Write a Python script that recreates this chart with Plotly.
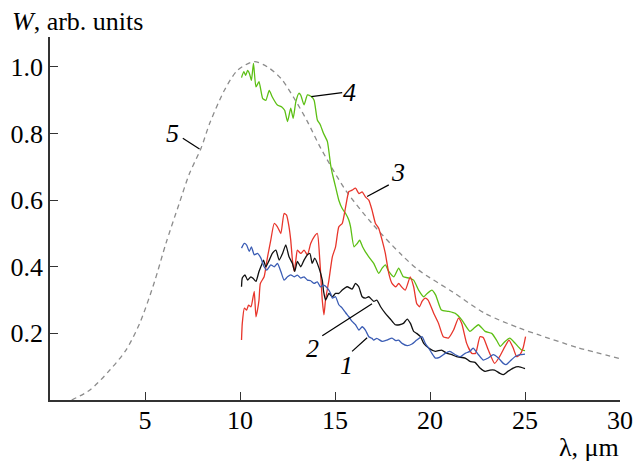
import plotly.graph_objects as go

# ---- data ----
x1 = [10.08,10.23,10.35,10.49,10.6,10.75,10.92,11.1,11.27,11.41,11.62,11.8,11.97,12.15,12.32,12.5,12.67,12.85,13.02,13.2,13.37,13.55,13.72,13.9,14.07,14.23,14.4,14.6,14.77,14.86,15.03,15.2,15.38,15.56,15.73,15.9,16.08,16.26,16.43,16.6,16.78,16.95,17.04,17.2,17.48,17.74,18.0,18.2,18.35,18.53,18.8,19.05,19.3,19.58,19.75,19.93,20.1,20.28,20.5,20.8,21.04,21.33,21.6,21.85,22.1,22.27,22.55,22.8,23.07,23.33,23.6,23.86,24.0,24.2,24.47,24.73,25.0]
y1 = [0.456,0.47,0.465,0.446,0.46,0.436,0.44,0.426,0.40,0.39,0.406,0.40,0.41,0.386,0.36,0.37,0.376,0.37,0.375,0.366,0.37,0.36,0.358,0.35,0.355,0.34,0.345,0.336,0.32,0.306,0.31,0.286,0.276,0.262,0.25,0.236,0.226,0.21,0.22,0.21,0.19,0.185,0.18,0.185,0.176,0.18,0.186,0.178,0.18,0.17,0.163,0.168,0.18,0.19,0.17,0.156,0.14,0.126,0.128,0.14,0.146,0.136,0.13,0.14,0.146,0.156,0.136,0.12,0.126,0.136,0.126,0.11,0.106,0.116,0.13,0.136,0.138]

x2 = [10.08,10.12,10.26,10.4,10.57,10.7,10.84,11.0,11.14,11.24,11.36,11.54,11.7,11.89,12.06,12.24,12.41,12.58,12.76,12.88,13.02,13.2,13.37,13.55,13.68,13.8,13.93,14.16,14.33,14.4,14.5,14.56,14.68,14.86,15.03,15.2,15.38,15.64,15.9,16.08,16.25,16.43,16.6,16.78,17.04,17.2,17.4,17.65,17.9,18.17,18.4,18.6,18.8,18.97,19.14,19.3,19.5,19.67,19.93,20.28,20.6,20.9,21.15,21.4,21.85,22.1,22.37,22.63,22.9,23.15,23.4,23.68,23.86,24.1,24.38,24.65,25.0]
y2 = [0.34,0.366,0.376,0.36,0.37,0.365,0.356,0.386,0.406,0.42,0.40,0.42,0.44,0.45,0.42,0.44,0.466,0.43,0.41,0.386,0.416,0.40,0.42,0.436,0.44,0.41,0.426,0.396,0.36,0.326,0.30,0.306,0.32,0.31,0.32,0.32,0.33,0.34,0.333,0.35,0.34,0.31,0.306,0.31,0.296,0.30,0.28,0.26,0.244,0.226,0.226,0.23,0.243,0.23,0.206,0.20,0.19,0.17,0.156,0.146,0.15,0.14,0.136,0.13,0.126,0.116,0.113,0.096,0.086,0.09,0.09,0.08,0.076,0.086,0.096,0.10,0.094]

x3 = [10.08,10.12,10.23,10.35,10.45,10.58,10.66,10.75,10.84,10.92,11.0,11.07,11.27,11.45,11.62,11.8,11.97,12.15,12.32,12.45,12.58,12.67,12.76,12.85,12.94,13.02,13.2,13.37,13.55,13.72,13.9,14.07,14.2,14.33,14.42,14.5,14.68,14.86,15.03,15.2,15.38,15.56,15.73,15.9,16.08,16.26,16.43,16.6,16.78,16.95,17.13,17.3,17.48,17.65,17.83,18.0,18.2,18.35,18.5,18.7,18.96,19.14,19.3,19.45,19.58,19.75,19.9,20.2,20.45,20.7,20.97,21.24,21.5,21.67,21.93,22.2,22.4,22.63,22.8,23.07,23.4,23.66,23.95,24.16,24.38,24.56,24.73,24.9,25.03]
y3 = [0.18,0.23,0.276,0.27,0.285,0.28,0.30,0.326,0.25,0.27,0.30,0.35,0.37,0.43,0.48,0.53,0.52,0.50,0.56,0.555,0.52,0.48,0.42,0.386,0.42,0.45,0.44,0.45,0.436,0.47,0.49,0.50,0.42,0.30,0.256,0.30,0.36,0.43,0.46,0.52,0.53,0.58,0.626,0.63,0.636,0.62,0.625,0.61,0.60,0.57,0.53,0.516,0.48,0.44,0.38,0.35,0.34,0.35,0.34,0.33,0.37,0.34,0.29,0.28,0.296,0.306,0.30,0.26,0.23,0.19,0.186,0.21,0.246,0.23,0.17,0.14,0.14,0.19,0.188,0.15,0.11,0.13,0.161,0.18,0.156,0.13,0.136,0.156,0.19]

x4 = [10.08,10.2,10.3,10.4,10.5,10.6,10.71,10.84,11.0,11.19,11.36,11.54,11.7,11.97,12.2,12.35,12.5,12.67,12.8,12.94,13.1,13.2,13.37,13.55,13.75,13.9,14.07,14.23,14.4,14.6,14.77,14.86,15.03,15.2,15.38,15.56,15.73,15.82,16.0,16.17,16.3,16.45,16.6,16.78,17.04,17.3,17.48,17.65,17.83,18.1,18.35,18.6,18.9,19.14,19.4,19.67,19.85,20.1,20.3,20.6,20.97,21.33,21.68,22.1,22.3,22.55,22.9,23.25,23.5,23.7,23.95,24.2,24.47,24.8,25.0]
y4 = [0.968,0.986,0.975,0.99,0.98,0.96,1.011,0.94,0.956,0.906,0.90,0.93,0.91,0.886,0.88,0.87,0.836,0.876,0.846,0.896,0.921,0.915,0.886,0.916,0.911,0.90,0.841,0.826,0.80,0.776,0.706,0.68,0.64,0.60,0.575,0.56,0.54,0.52,0.46,0.47,0.48,0.46,0.445,0.43,0.41,0.38,0.396,0.406,0.386,0.37,0.396,0.37,0.366,0.36,0.33,0.31,0.32,0.33,0.315,0.27,0.266,0.26,0.24,0.206,0.215,0.226,0.206,0.20,0.18,0.161,0.176,0.186,0.171,0.151,0.148]

x5 = [1.14,2.1,3.15,4.0,4.72,5.5,6.1,6.8,7.34,7.95,8.4,9.18,9.87,10.75,11.45,12.15,12.85,13.55,14.25,15.56,16.95,18.5,19.4,21.15,22.9,24.65,25.7,27.8,29.94]
y5 = [0.0,0.03,0.09,0.15,0.23,0.355,0.47,0.59,0.68,0.756,0.83,0.93,0.99,1.016,1.0,0.966,0.906,0.836,0.756,0.63,0.53,0.436,0.39,0.326,0.26,0.217,0.196,0.157,0.125]

x_ticks = [5, 10, 15, 20, 25, 30]
y_ticks = [0.2, 0.4, 0.6, 0.8, 1.0]
y_tick_text = ["0.2", "0.4", "0.6", "0.8", "1.0"]

# curve labels: text, label position, leader line start (on curve), leader line end
labels = [
    ("1", (15.6, 0.105), (15.9, 0.146), (16.69, 0.187)),
    ("2", (13.8, 0.155), (14.33, 0.193), (16.95, 0.289)),
    ("3", (18.3, 0.682), (16.69, 0.611), (17.83, 0.646)),
    ("4", (15.75, 0.922), (13.75, 0.911), (15.38, 0.923)),
    ("5", (6.45, 0.80), (7.87, 0.754), (6.99, 0.786)),
]

FONT = "Liberation Serif"
FS = 26
fig = go.Figure()
fig.add_trace(go.Scatter(x=x5, y=y5, mode="lines", line=dict(color="#8c8c8c", width=1.3, dash="5px,4px", shape="spline", smoothing=0.8)))
fig.add_trace(go.Scatter(x=x4, y=y4, mode="lines", line=dict(color="#5cbf14", width=1.3, shape="spline", smoothing=0.5)))
fig.add_trace(go.Scatter(x=x3, y=y3, mode="lines", line=dict(color="#e8352b", width=1.3, shape="spline", smoothing=0.5)))
fig.add_trace(go.Scatter(x=x2, y=y2, mode="lines", line=dict(color="#111111", width=1.3, shape="spline", smoothing=0.5)))
fig.add_trace(go.Scatter(x=x1, y=y1, mode="lines", line=dict(color="#3a5cb4", width=1.3, shape="spline", smoothing=0.5)))

for txt, (lx, ly), (ax0, ay0), (ax1, ay1) in labels:
    fig.add_shape(type="line", x0=ax0, y0=ay0, x1=ax1, y1=ay1, xref="x", yref="y",
                  line=dict(color="black", width=1.2))
    fig.add_annotation(x=lx, y=ly, xref="x", yref="y", text="<i>%s</i>" % txt, showarrow=False,
                       font=dict(family=FONT, size=FS, color="black"))

fig.add_annotation(x=-0.9, y=-0.048, xref="x", yref="y", text="0", showarrow=False,
                   font=dict(family=FONT, size=FS, color="black"))
fig.add_annotation(x=-0.07, y=1.042, xref="paper", yref="paper", xanchor="left", yanchor="middle",
                   text="<i>W</i>, arb. units", showarrow=False, font=dict(family=FONT, size=FS, color="black"))
fig.add_annotation(x=1.002, y=-0.132, xref="paper", yref="paper", xanchor="right", yanchor="middle",
                   text="λ, μm", showarrow=False, font=dict(family=FONT, size=FS, color="black"))

fig.update_layout(
    width=634, height=466,
    margin=dict(l=50, r=14, t=37, b=66),
    paper_bgcolor="white", plot_bgcolor="white",
    showlegend=False,
    font=dict(family=FONT, size=FS, color="black"),
)
fig.update_xaxes(range=[0, 30], tickvals=x_ticks, ticks="inside", ticklen=8, tickwidth=1.3,
                 tickcolor="#333", showline=True, linecolor="#333", linewidth=1.5, automargin=False,
                 ticklabelstandoff=-4,
                 showgrid=False, zeroline=False, tickfont=dict(family=FONT, size=FS))
fig.update_yaxes(range=[0, 1.09], tickvals=y_ticks, ticktext=y_tick_text, ticks="inside", ticklen=8,
                 tickwidth=1.3, tickcolor="#333", showline=True, linecolor="#333", linewidth=1.5,
                 automargin=False,
                 showgrid=False, zeroline=False, tickfont=dict(family=FONT, size=FS))

fig.write_html("out.html", config={"displayModeBar": False},
               post_script="document.body.style.margin='0';document.body.style.overflow='hidden';")
